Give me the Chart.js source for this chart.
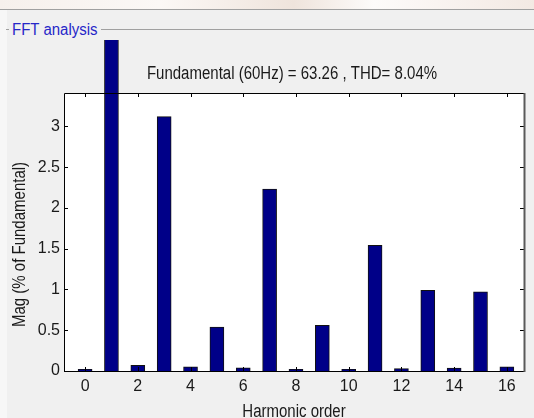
<!DOCTYPE html>
<html>
<head>
<meta charset="utf-8">
<script src="https://cdn.jsdelivr.net/npm/chart.js@4/dist/chart.umd.min.js"></script>
<style>
  html, body { margin: 0; padding: 0; }
  body { width: 534px; height: 418px; background: #f0f0f0; position: relative; overflow: hidden;
         font-family: "Liberation Sans", Arial, sans-serif; }
  #topstrip { position: absolute; left: 0; top: 0; width: 534px; height: 9px;
              background: linear-gradient(90deg, #f6f0ec 0%, #fbf8f6 30%, #efe4dc 55%, #fdfbfa 70%, #f3e9e3 100%); }
  #topline { position: absolute; left: 0; top: 9px; width: 534px; height: 1px; background: #a0a0a0; }
  #leftstrip { position: absolute; left: 0; top: 10px; width: 7px; height: 408px; background: #f7f7f7; }
  #boxline { position: absolute; left: 101px; top: 29px; width: 433px; height: 1px; background: #a0a0a0; }
  #boxstub { position: absolute; left: 6px; top: 29px; width: 3px; height: 1px; background: #a0a0a0; }
  #boxtitle { position: absolute; left: 12px; top: 20px; font-size: 15px; line-height: 17px; color: #2626c8;
              transform: scaleY(1.15); transform-origin: 0 50%; }
  #wrap { position: absolute; left: 0; top: 0; width: 534px; height: 418px; }
</style>
</head>
<body>
<div id="topstrip"></div>
<div id="topline"></div>
<div id="leftstrip"></div>
<div id="boxstub"></div>
<div id="boxline"></div>
<div id="boxtitle">FFT analysis</div>
<div id="wrap"><canvas id="fft"></canvas></div>
<script>
// Harmonic spectrum (magnitude in % of fundamental).
const harmonics  = [0, 1, 2, 3, 4, 5, 6, 7, 8, 9, 10, 11, 12, 13, 14, 15, 16];
const magnitudes = [0.02, 100, 0.07, 3.12, 0.05, 0.54, 0.04, 2.23, 0.02, 0.56, 0.02, 1.54, 0.03, 0.99, 0.035, 0.97, 0.05];
const xTicks = [0, 2, 4, 6, 8, 10, 12, 14, 16];
const yTicks = [0, 0.5, 1, 1.5, 2, 2.5, 3];

const TITLE  = "Fundamental (60Hz) = 63.26 , THD= 8.04%";
const XLABEL = "Harmonic order";
const YLABEL = "Mag (% of Fundamental)";
const FONT = '"Liberation Sans", Arial, sans-serif';

// white plot background, matlab-ish box with inward ticks on all sides, titles
const axesBox = {
  id: "axesBox",
  beforeDatasetsDraw(chart) {
    const { ctx, chartArea: a } = chart;
    ctx.save();
    ctx.fillStyle = "#ffffff";
    ctx.fillRect(a.left, a.top, a.right - a.left, a.bottom - a.top);
    ctx.restore();
  },
  afterDatasetsDraw(chart) {
    const { ctx, chartArea: a, scales } = chart;
    ctx.save();
    ctx.strokeStyle = "#000";
    ctx.lineWidth = 1;
    ctx.beginPath();
    xTicks.forEach(v => {
      const px = Math.round(scales.x.getPixelForValue(v)) + 0.5;
      ctx.moveTo(px, a.bottom); ctx.lineTo(px, a.bottom - 4);
      ctx.moveTo(px, a.top);    ctx.lineTo(px, a.top + 4);
    });
    yTicks.forEach(v => {
      const py = Math.round(scales.y.getPixelForValue(v)) + 0.5;
      ctx.moveTo(a.left, py);  ctx.lineTo(a.left + 4, py);
      ctx.moveTo(a.right, py); ctx.lineTo(a.right - 4, py);
    });
    ctx.stroke();
    // box
    ctx.beginPath();
    ctx.moveTo(a.right, a.top + 0.5); ctx.lineTo(a.left + 0.5, a.top + 0.5);
    ctx.lineTo(a.left + 0.5, a.bottom + 0.5); ctx.lineTo(a.right, a.bottom + 0.5);
    ctx.stroke();
    ctx.strokeStyle = "#5a5a5a";
    ctx.lineWidth = 2;
    ctx.beginPath();
    ctx.moveTo(a.right + 0.5, a.top); ctx.lineTo(a.right + 0.5, a.bottom + 1);
    ctx.stroke();

    ctx.fillStyle = "#1a1a1a";
    ctx.font = "15px " + FONT;
    ctx.textBaseline = "alphabetic";
    ctx.textAlign = "center";
    // slight vertical stretch like the reference rendering
    ctx.save(); ctx.translate(292, 79); ctx.scale(1, 1.2);
    ctx.fillText(TITLE, 0, 0); ctx.restore();
    ctx.save(); ctx.translate((a.left + a.right) / 2, 417); ctx.scale(1, 1.2);
    ctx.fillText(XLABEL, 0, 0); ctx.restore();
    ctx.translate(25, 327);
    ctx.rotate(-Math.PI / 2);
    ctx.scale(1, 1.2);
    ctx.textAlign = "left";
    ctx.fillText(YLABEL, 0, 0);
    ctx.restore();
  }
};

new Chart(document.getElementById("fft"), {
  type: "bar",
  data: {
    datasets: [{
      label: "Mag",
      data: harmonics.map((h, i) => ({ x: h, y: magnitudes[i] })),
      backgroundColor: "#000088",
      borderColor: "#111",
      borderWidth: 1,
      barThickness: 14,
      clip: { left: 0, top: 53, right: 0, bottom: 0 },
    }]
  },
  options: {
    responsive: true, maintainAspectRatio: false, animation: false,
    layout: { padding: { left: 0, top: 93, right: 10, bottom: 0 } },
    plugins: { legend: { display: false }, tooltip: { enabled: false } },
    scales: {
      x: {
        type: "linear", min: -0.8, max: 16.65, offset: false,
        grid: { display: false, drawTicks: false },
        border: { display: false },
        afterFit: s => { s.height = 47; },
        afterBuildTicks: s => { s.ticks = xTicks.map(v => ({ value: v })); },
        ticks: { color: "#1a1a1a", padding: 6, font: { family: FONT, size: 16 }, maxRotation: 0,
                 callback: v => String(v) },
      },
      y: {
        min: 0, max: 3.41,
        grid: { display: false, drawTicks: false },
        border: { display: false },
        afterFit: s => { s.width = 64; },
        afterBuildTicks: s => { s.ticks = yTicks.map(v => ({ value: v })); },
        ticks: { color: "#1a1a1a", padding: 4, font: { family: FONT, size: 16 },
                 callback: v => String(v) },
      },
    },
  },
  plugins: [axesBox],
});
</script>
</body>
</html>
